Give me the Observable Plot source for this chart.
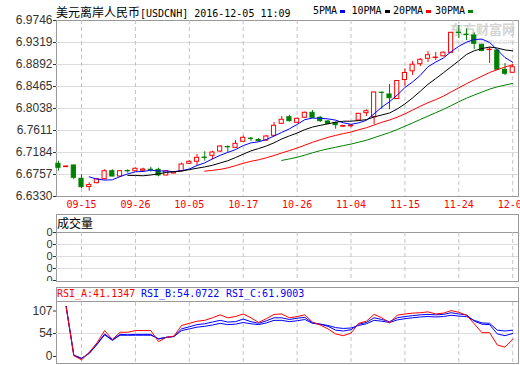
<!DOCTYPE html>
<html><head><meta charset="utf-8">
<script src="https://cdn.jsdelivr.net/npm/d3@7"></script>
<script src="https://cdn.jsdelivr.net/npm/@observablehq/plot@0.6"></script>
<style>
body{margin:0;background:#fff;}
#wrap{position:relative;width:520px;height:365px;overflow:hidden;background:#fff;font-family:"Liberation Sans",Arial,sans-serif;}
.abs{position:absolute;white-space:pre;}
.mono{font-family:"DejaVu Sans Mono",monospace;font-size:10px;line-height:12px;}
.cjk{font-family:"Noto Sans CJK SC",sans-serif;font-size:12px;line-height:14px;}
.box{position:absolute;box-sizing:border-box;border:1px solid #999;}
.sw{position:absolute;height:3px;width:5px;}
svg{position:absolute;left:0;}
</style></head><body><div id="wrap"></div>
<script>
// ---- data ----
const dates = ["09-15","09-26","10-05","10-17","10-26","11-04","11-15","11-24","12-05"];
const dateIdx = [3,10,17,24,31,38,45,52,59];
const priceTicks = [6.6330,6.6757,6.7184,6.7611,6.8038,6.8465,6.8892,6.9319,6.9746];
const open  = [6.6965,6.6900,6.6932,6.6674,6.6514,6.6588,6.6666,6.6821,6.6718,6.6825,6.6821,6.6829,6.6850,6.6848,6.6738,6.6776,6.6821,6.6965,6.7004,6.7085,6.7120,6.7203,6.7290,6.7275,6.7392,6.7452,6.7427,6.7417,6.7508,6.7741,6.7869,6.7760,6.7858,6.7955,6.7858,6.7786,6.7760,6.7685,6.7693,6.7805,6.7947,6.7869,6.8345,6.8310,6.8222,6.8591,6.8760,6.8898,6.9003,6.9018,6.9051,6.9119,6.9510,6.9471,6.9455,6.9274,6.9172,6.9164,6.8789,6.8731];
const high  = [6.7015,6.6922,6.6941,6.6751,6.6596,6.6679,6.6848,6.6848,6.6835,6.6848,6.6883,6.6879,6.6899,6.6879,6.6830,6.6815,6.6980,6.7023,6.7145,6.7198,6.7209,6.7320,6.7314,6.7417,6.7504,6.7475,6.7456,6.7514,6.7766,6.7883,6.7908,6.7854,6.7970,6.7999,6.7883,6.7805,6.7776,6.7708,6.7718,6.7941,6.8013,6.8358,6.8358,6.8504,6.8581,6.8809,6.8950,6.9008,6.9139,6.9125,6.9135,6.9517,6.9649,6.9585,6.9507,6.9285,6.9222,6.9183,6.8911,6.8886];
const low   = [6.6821,6.6893,6.6654,6.6485,6.6433,6.6577,6.6650,6.6709,6.6699,6.6782,6.6815,6.6825,6.6802,6.6712,6.6730,6.6767,6.6806,6.6951,6.6926,6.7015,6.7042,6.7184,6.7184,6.7262,6.7378,6.7397,6.7388,6.7397,6.7485,6.7727,6.7776,6.7747,6.7844,6.7844,6.7766,6.7727,6.7636,6.7669,6.7663,6.7795,6.7883,6.7727,6.8019,6.8013,6.8213,6.8471,6.8679,6.8853,6.8931,6.8970,6.9042,6.9105,6.9397,6.9358,6.9183,6.9140,6.8911,6.8776,6.8679,6.8727];
const close = [6.6887,6.6912,6.6693,6.6511,6.6553,6.6666,6.6821,6.6718,6.6821,6.6818,6.6868,6.6854,6.6845,6.6738,6.6821,6.6802,6.6951,6.7004,6.7081,6.7078,6.7184,6.7300,6.7285,6.7353,6.7469,6.7447,6.7407,6.7495,6.7702,6.7819,6.7792,6.7838,6.7955,6.7858,6.7792,6.7741,6.7714,6.7700,6.7708,6.7935,6.7986,6.8349,6.8342,6.8238,6.8572,6.8727,6.8888,6.8983,6.9072,6.9026,6.9121,6.9507,6.9504,6.9465,6.9294,6.9154,6.9180,6.8789,6.8712,6.8840];
const maPeriods = [5,10,20,30];
const maColors = ["#0000ff","#000000","#ff0000","#008000"];
const maNames = ["5PMA","10PMA","20PMA","30PMA"];
const volTicks = [0,1,2,3,4];
const rsiTicks = [0,54,107];
const rsiA = [null,117,2,-8,10,32,61,40,57,57,61,61,61,35,45,48,73,78,83,85,91,98,91,94,100,91,80,89,99,100,91,94,98,81,74,65,53,49,55,78,83,99,91,79,97,100,102,103,105,100,102,108,104,97,77,56,56,27,22,41.1];
const rsiB = [null,118,3,-5,8,29,53,39,52,51,52,52,52,41,45,47,65,70,75,77,81,85,81,82,88,82,78,84,91,91,87,90,92,79,76,71,62,60,63,76,80,91,87,82,91,94,96,98,99,98,99,103,100,98,83,76,75,53,49,54.1];
const rsiC = [null,118,3,-4,7,28,51,38,50,50,50,50,50,42,45,47,61,65,69,71,74,78,75,76,80,77,75,79,85,85,82,84,87,78,76,73,68,66,67,73,77,85,83,80,86,89,91,93,94,93,94,97,95,94,85,79,78,62,60,61.9];
const rsiLabels = ["RSI_A:41.1347","RSI_B:54.0722","RSI_C:61.9003"];
const rsiColors = ["#ff0000","#0000ff","#0000ff"];

// ---- build ----
const wrap = document.getElementById("wrap");
function el(html){const d=document.createElement("div");d.innerHTML=html;const n=d.firstChild;wrap.appendChild(n);return n;}

const rows = close.map((c,i)=>({i, open:open[i], high:high[i], low:low[i], close:c, up:c>=open[i]}));
const xDom = [-0.25, 59.75];
const baseStyle = {background:"transparent", fontFamily:"Liberation Sans, Arial, sans-serif", fontSize:"12px", color:"#333"};

// panel boxes
el(`<div class="box" style="left:56px;top:20px;width:463px;height:177px"></div>`);
el(`<div class="box" style="left:56px;top:214px;width:463px;height:68px"></div>`);
el(`<div class="box" style="left:56px;top:232px;width:463px;height:1px;border-width:1px 0 0 0"></div>`);
el(`<div class="box" style="left:56px;top:287px;width:463px;height:77px"></div>`);
el(`<div class="box" style="left:56px;top:301px;width:463px;height:1px;border-width:1px 0 0 0"></div>`);

// title + legend
el(`<div class="abs" style="left:56px;top:3px"><span class="cjk">美元离岸人民币</span><span class="mono">[USDCNH] 2016-12-05 11:09</span></div>`);
const legX = [313,351.5,393,435];
maNames.forEach((n,k)=>{
  el(`<div class="abs mono" style="left:${legX[k]}px;top:5px;color:#000">${n}</div>`);
  el(`<div class="sw" style="left:${legX[k]+n.length*6.02+3}px;top:10px;background:${maColors[k]}"></div>`);
});
// watermark
el(`<div class="abs" style="left:450px;top:21px;font-family:'Noto Sans CJK SC';font-size:13px;font-weight:bold;color:#d4d4d4;line-height:15px">东方财富网</div>`);
el(`<div class="abs" style="left:455px;top:37px;font-family:'DejaVu Sans';font-size:7.5px;font-style:italic;color:#dedede;line-height:9px">eastmoney.com</div>`);

// main panel
const main = Plot.plot({
  width:520, height:214, marginLeft:56, marginRight:2, marginTop:20, marginBottom:18,
  style: baseStyle,
  x:{type:"linear", domain:xDom, axis:null},
  y:{domain:[6.6330,6.9746], ticks:priceTicks, tickFormat:d=>d.toFixed(4), tickSize:3, tickPadding:1, label:null},
  marks:[
    Plot.ruleY(priceTicks.slice(1,-1), {stroke:"#dcdcdc"}),
    Plot.ruleX(dateIdx, {stroke:"#c4c4c4", strokeDasharray:"4,3"}),
    Plot.ruleX(rows, {x:"i", y1:"low", y2:"high", stroke:d=>d.up?"#ff0000":"#008000"}),
    Plot.rect(rows, {x1:d=>d.i-0.27, x2:d=>d.i+0.27, y1:"open", y2:"close",
      fill:d=>d.up?"#ffffff":"#008000", stroke:d=>d.up?"#ff0000":"#008000", strokeWidth:1}),
    ...maPeriods.map((k,j)=>Plot.lineY(rows, Plot.windowY({k, anchor:"end", strict:true}, {x:"i", y:"close", stroke:maColors[j], strokeWidth:1}))),
    Plot.text(dateIdx, {x:d=>d, text:(d,k)=>dates[k], frameAnchor:"bottom", dy:11, fill:"#ff0000", fontFamily:"DejaVu Sans Mono, monospace", fontSize:10})
  ]
});
main.style.top = "0px";
wrap.appendChild(main);

// volume panel
el(`<div class="abs cjk" style="left:57px;top:216px;color:#000">成交量</div>`);
const vol = Plot.plot({
  width:520, height:67, marginLeft:56, marginRight:2, marginTop:18, marginBottom:1,
  style: {...baseStyle, fontSize:"11px"},
  x:{type:"linear", domain:xDom, axis:null},
  y:{domain:[0,4], ticks:volTicks, tickFormat:()=>"0", tickSize:3, tickPadding:1, label:null},
  marks:[
    Plot.ruleY(volTicks.slice(1,-1), {stroke:"#dcdcdc"}),
    Plot.ruleX(dateIdx, {stroke:"#c4c4c4", strokeDasharray:"4,3"})
  ]
});
vol.style.top = "214px";
wrap.appendChild(vol);

// RSI panel
const rsiX = [57,141,226];
rsiLabels.forEach((t,k)=>el(`<div class="abs mono" style="left:${rsiX[k]}px;top:288px;color:${rsiColors[k]}">${t}</div>`));
const rsiRows = rsiA.map((a,i)=>({i, a, b:rsiB[i], c:rsiC[i]})).filter(d=>d.a!=null);
const rsi = Plot.plot({
  width:520, height:84, marginLeft:56, marginRight:2, marginTop:21, marginBottom:2,
  style: baseStyle,
  x:{type:"linear", domain:xDom, axis:null},
  y:{domain:[-16.46,127.0], ticks:rsiTicks, tickFormat:d=>String(d), tickSize:3, tickPadding:1, label:null},
  marks:[
    Plot.ruleY([54], {stroke:"#dcdcdc"}),
    Plot.ruleX(dateIdx, {stroke:"#c4c4c4", strokeDasharray:"4,3"}),
    Plot.line(rsiRows, {x:"i", y:"c", stroke:rsiColors[2], strokeWidth:1}),
    Plot.line(rsiRows, {x:"i", y:"b", stroke:rsiColors[1], strokeWidth:1}),
    Plot.line(rsiRows, {x:"i", y:"a", stroke:rsiColors[0], strokeWidth:1})
  ]
});
rsi.style.top = "281px";
wrap.appendChild(rsi);
</script></body></html>
